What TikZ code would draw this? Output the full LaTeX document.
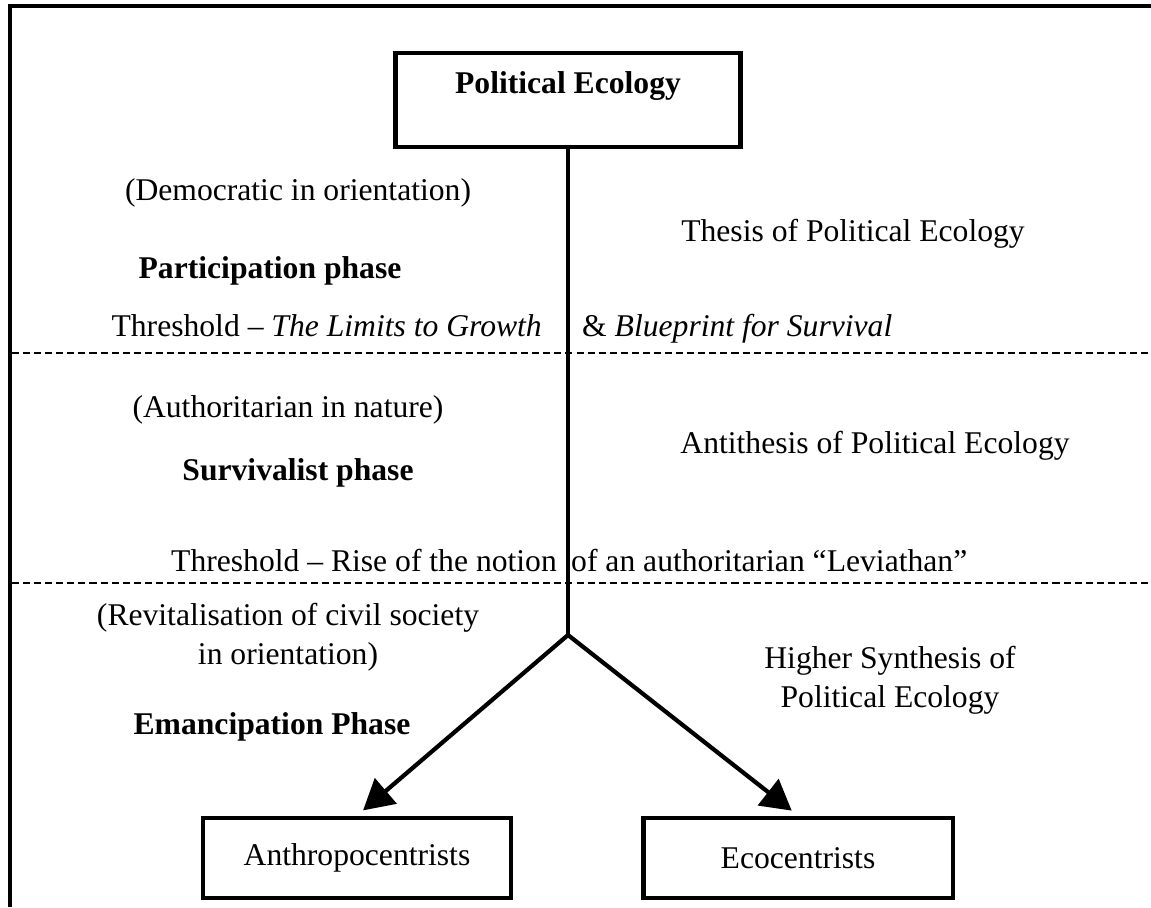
\documentclass[tikz,border=0pt]{standalone}
\usepackage{fontspec}
\setmainfont{Liberation Serif}
\usetikzlibrary{arrows.meta}

\begin{document}
\begin{tikzpicture}[x=0.02cm, y=-0.02cm,
        every node/.style={font=\fontsize{18}{22}\selectfont},
        box/.style={draw, line width=2.8pt, inner sep=0pt},
        phase/.style={font=\fontsize{18}{22}\selectfont\bfseries},
        sep/.style={dash pattern=on 4pt off 2.3pt, line width=0.8pt},
        stem/.style={line width=2.4pt},
        branch/.style={line width=2.4pt, -{Triangle[length=0.6cm, width=0.66cm]}, shorten >=0.16cm}]
        \useasboundingbox (0,0) rectangle (1151,907);

        % outer frame, top and left edge only
        \draw[line width=2.6pt] (10,907) -- (10,6) -- (1151,6);

        % phase borders
        \draw[sep] (12,353) -- (1151,353);
        \draw[sep] (12,583) -- (1151,583);

        % boxes
        \node[box, font=\fontsize{18}{22}\selectfont\bfseries, minimum width=6.9cm, text height=0.8cm, text depth=1.08cm] (pe) at (568,100) {Political Ecology};
        \node[box, minimum width=6.16cm, minimum height=1.6cm] (anthro) at (357,858) {Anthropocentrists};
        \node[box, minimum width=6.2cm, minimum height=1.6cm] (eco) at (798,858) {Ecocentrists};

        \coordinate (fork) at (568,635);
        \draw[stem] (pe) -- (fork);
        \draw[branch] (fork) -- (anthro.north);
        \draw[branch] (fork) -- (eco.north);

        % participation phase
        \node (demo) at (298,193) {(Democratic in orientation)};
        \node[phase] (part) at (270,271) {Participation phase};
        \node (thesis) at (853,234) {Thesis of Political Ecology};
        \node[anchor=base east] (limits) at (548,336) {Threshold -- \textit{The Limits to Growth}};
        \node[anchor=base west] (blueprint) at (576,336) {\& \textit{Blueprint for Survival}};

        % survivalist phase
        \node (auth) at (288,410) {(Authoritarian in nature)};
        \node[phase] (surv) at (298,473) {Survivalist phase};
        \node (anti) at (875,446) {Antithesis of Political Ecology};
        \node[anchor=base east] (rise) at (563,571) {Threshold -- Rise of the notion};
        \node[anchor=base west] (levi) at (565,571) {of an authoritarian “Leviathan”};

        % emancipation phase
        \node[align=center] (civil) at (288,637) {(Revitalisation of civil society\\in orientation)};
        \node[align=center] (synth) at (890,680) {Higher Synthesis of\\Political Ecology};
        \node[phase] (eman) at (272,727) {Emancipation Phase};
\end{tikzpicture}
\end{document}
